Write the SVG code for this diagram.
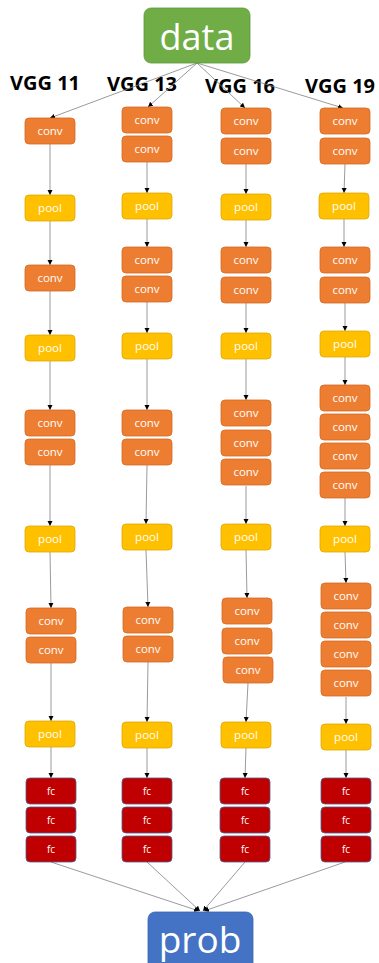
<svg xmlns="http://www.w3.org/2000/svg" width="379" height="963" viewBox="0 0 379 963">
<defs>
<marker id="ah" markerWidth="6" markerHeight="6" refX="5" refY="3" orient="auto" markerUnits="userSpaceOnUse">
<path d="M0,0.5 L5,3 L0,5.5 Z" fill="#000"/>
</marker>
<style>
.conv rect{fill:#ED7D31;stroke:#D46A25;stroke-width:0.8}
.pool rect{fill:#FFC000;stroke:#E0A800;stroke-width:0.8}
.fc rect{fill:#C00000;stroke:#4F5F8F;stroke-width:0.8}
.n text{fill:#fff;font-family:"Open Sans",sans-serif;font-size:11.5px;text-anchor:middle}
.fc text{font-size:10px}
.lbl{font-family:"Open Sans",sans-serif;font-weight:bold;font-size:20px;fill:#000}
.big text{fill:#fff;font-family:"Open Sans",sans-serif;text-anchor:middle}
#edges line{stroke:#808080;stroke-width:0.8;marker-end:url(#ah)}
</style>
</defs>
<rect width="379" height="963" fill="#fff"/>
<g id="labels">
<text class="lbl" x="10" y="90">VGG 11</text>
<text class="lbl" x="107" y="91">VGG 13</text>
<text class="lbl" x="205" y="93">VGG 16</text>
<text class="lbl" x="305" y="93">VGG 19</text>
</g>
<g id="edges">
<line x1="197" y1="63" x2="50" y2="118"/>
<line x1="197" y1="63" x2="148" y2="107"/>
<line x1="197" y1="63" x2="245" y2="108"/>
<line x1="197" y1="63" x2="343" y2="108"/>
<line x1="50" y1="144" x2="50" y2="195"/>
<line x1="50" y1="221" x2="50" y2="265"/>
<line x1="50" y1="291" x2="50" y2="335"/>
<line x1="50" y1="361" x2="50" y2="410"/>
<line x1="50" y1="465" x2="50" y2="526"/>
<line x1="50" y1="552" x2="51" y2="608"/>
<line x1="51" y1="663" x2="51" y2="721"/>
<line x1="51" y1="747" x2="51" y2="778"/>
<line x1="147" y1="162" x2="147" y2="193"/>
<line x1="147" y1="219" x2="147" y2="247"/>
<line x1="147" y1="302" x2="147" y2="333"/>
<line x1="147" y1="359" x2="147" y2="410"/>
<line x1="147" y1="465" x2="146" y2="524"/>
<line x1="146" y1="550" x2="148" y2="607"/>
<line x1="148" y1="662" x2="147" y2="722"/>
<line x1="147" y1="748" x2="147" y2="778"/>
<line x1="246" y1="164" x2="246" y2="194"/>
<line x1="246" y1="220" x2="246" y2="247"/>
<line x1="246" y1="303" x2="246" y2="333"/>
<line x1="246" y1="359" x2="246" y2="400"/>
<line x1="246" y1="486" x2="246" y2="524"/>
<line x1="246" y1="550" x2="247" y2="598"/>
<line x1="248" y1="683" x2="246" y2="722"/>
<line x1="246" y1="748" x2="245" y2="778"/>
<line x1="345" y1="164" x2="344" y2="193"/>
<line x1="344" y1="219" x2="344" y2="247"/>
<line x1="345" y1="303" x2="345" y2="331"/>
<line x1="345" y1="357" x2="345" y2="385"/>
<line x1="345" y1="498" x2="345" y2="526"/>
<line x1="345" y1="552" x2="346" y2="583"/>
<line x1="346" y1="697" x2="346" y2="724"/>
<line x1="346" y1="750" x2="346" y2="778"/>
<line x1="51" y1="862" x2="199" y2="911"/>
<line x1="147" y1="862" x2="200" y2="911"/>
<line x1="245" y1="862" x2="203" y2="911"/>
<line x1="345" y1="862" x2="204" y2="911"/>
</g>
<g id="data" class="big">
<rect x="144" y="8" width="106" height="55" rx="7" fill="#70AD47" stroke="#5E9A3A" stroke-width="0.8"/>
<text x="197" y="50" font-size="36">data</text>
</g>
<g id="prob" class="big">
<rect x="148" y="912" width="105" height="60" rx="7" fill="#4472C4" stroke="#3A64B0" stroke-width="0.8"/>
<text x="200" y="953" font-size="37">prob</text>
</g>
<g id="v11_conv1" class="n conv"><rect x="25" y="118" width="50" height="26" rx="4"/><text x="50" y="135">conv</text></g>
<g id="v11_pool1" class="n pool"><rect x="25" y="195" width="50" height="26" rx="4"/><text x="50" y="212">pool</text></g>
<g id="v11_conv2" class="n conv"><rect x="25" y="265" width="50" height="26" rx="4"/><text x="50" y="282">conv</text></g>
<g id="v11_pool2" class="n pool"><rect x="25" y="335" width="50" height="26" rx="4"/><text x="50" y="352">pool</text></g>
<g id="v11_conv3" class="n conv"><rect x="25" y="410" width="50" height="26" rx="4"/><text x="50" y="427">conv</text></g>
<g id="v11_conv4" class="n conv"><rect x="25" y="439" width="50" height="26" rx="4"/><text x="50" y="456">conv</text></g>
<g id="v11_pool3" class="n pool"><rect x="25" y="526" width="50" height="26" rx="4"/><text x="50" y="543">pool</text></g>
<g id="v11_conv5" class="n conv"><rect x="26" y="608" width="50" height="26" rx="4"/><text x="51" y="625">conv</text></g>
<g id="v11_conv6" class="n conv"><rect x="26" y="637" width="50" height="26" rx="4"/><text x="51" y="654">conv</text></g>
<g id="v11_pool4" class="n pool"><rect x="25" y="721" width="50" height="26" rx="4"/><text x="50" y="738">pool</text></g>
<g id="v11_fc1" class="n fc"><rect x="26" y="778" width="50" height="26" rx="4"/><text x="51" y="795">fc</text></g>
<g id="v11_fc2" class="n fc"><rect x="26" y="807" width="50" height="26" rx="4"/><text x="51" y="824">fc</text></g>
<g id="v11_fc3" class="n fc"><rect x="26" y="836" width="50" height="26" rx="4"/><text x="51" y="853">fc</text></g>
<g id="v13_conv1" class="n conv"><rect x="122" y="107" width="50" height="26" rx="4"/><text x="147" y="124">conv</text></g>
<g id="v13_conv2" class="n conv"><rect x="122" y="136" width="50" height="26" rx="4"/><text x="147" y="153">conv</text></g>
<g id="v13_pool1" class="n pool"><rect x="122" y="193" width="50" height="26" rx="4"/><text x="147" y="210">pool</text></g>
<g id="v13_conv3" class="n conv"><rect x="122" y="247" width="50" height="26" rx="4"/><text x="147" y="264">conv</text></g>
<g id="v13_conv4" class="n conv"><rect x="122" y="276" width="50" height="26" rx="4"/><text x="147" y="293">conv</text></g>
<g id="v13_pool2" class="n pool"><rect x="122" y="333" width="50" height="26" rx="4"/><text x="147" y="350">pool</text></g>
<g id="v13_conv5" class="n conv"><rect x="122" y="410" width="50" height="26" rx="4"/><text x="147" y="427">conv</text></g>
<g id="v13_conv6" class="n conv"><rect x="122" y="439" width="50" height="26" rx="4"/><text x="147" y="456">conv</text></g>
<g id="v13_pool3" class="n pool"><rect x="122" y="524" width="50" height="26" rx="4"/><text x="147" y="541">pool</text></g>
<g id="v13_conv7" class="n conv"><rect x="123" y="607" width="50" height="26" rx="4"/><text x="148" y="624">conv</text></g>
<g id="v13_conv8" class="n conv"><rect x="123" y="636" width="50" height="26" rx="4"/><text x="148" y="653">conv</text></g>
<g id="v13_pool4" class="n pool"><rect x="122" y="722" width="50" height="26" rx="4"/><text x="147" y="739">pool</text></g>
<g id="v13_fc1" class="n fc"><rect x="122" y="778" width="50" height="26" rx="4"/><text x="147" y="795">fc</text></g>
<g id="v13_fc2" class="n fc"><rect x="122" y="807" width="50" height="26" rx="4"/><text x="147" y="824">fc</text></g>
<g id="v13_fc3" class="n fc"><rect x="122" y="836" width="50" height="26" rx="4"/><text x="147" y="853">fc</text></g>
<g id="v16_conv1" class="n conv"><rect x="221" y="108" width="50" height="26" rx="4"/><text x="246" y="125">conv</text></g>
<g id="v16_conv2" class="n conv"><rect x="221" y="138" width="50" height="26" rx="4"/><text x="246" y="155">conv</text></g>
<g id="v16_pool1" class="n pool"><rect x="221" y="194" width="50" height="26" rx="4"/><text x="246" y="211">pool</text></g>
<g id="v16_conv3" class="n conv"><rect x="221" y="247" width="50" height="26" rx="4"/><text x="246" y="264">conv</text></g>
<g id="v16_conv4" class="n conv"><rect x="221" y="277" width="50" height="26" rx="4"/><text x="246" y="294">conv</text></g>
<g id="v16_pool2" class="n pool"><rect x="221" y="333" width="50" height="26" rx="4"/><text x="246" y="350">pool</text></g>
<g id="v16_conv5" class="n conv"><rect x="221" y="400" width="50" height="26" rx="4"/><text x="246" y="417">conv</text></g>
<g id="v16_conv6" class="n conv"><rect x="221" y="430" width="50" height="26" rx="4"/><text x="246" y="447">conv</text></g>
<g id="v16_conv7" class="n conv"><rect x="221" y="459" width="50" height="26" rx="4"/><text x="246" y="476">conv</text></g>
<g id="v16_pool3" class="n pool"><rect x="221" y="524" width="50" height="26" rx="4"/><text x="246" y="541">pool</text></g>
<g id="v16_conv8" class="n conv"><rect x="222" y="598" width="50" height="26" rx="4"/><text x="247" y="615">conv</text></g>
<g id="v16_conv9" class="n conv"><rect x="222" y="628" width="50" height="26" rx="4"/><text x="247" y="645">conv</text></g>
<g id="v16_conv10" class="n conv"><rect x="223" y="657" width="50" height="26" rx="4"/><text x="248" y="674">conv</text></g>
<g id="v16_pool4" class="n pool"><rect x="221" y="722" width="50" height="26" rx="4"/><text x="246" y="739">pool</text></g>
<g id="v16_fc1" class="n fc"><rect x="220" y="778" width="50" height="26" rx="4"/><text x="245" y="795">fc</text></g>
<g id="v16_fc2" class="n fc"><rect x="220" y="807" width="50" height="26" rx="4"/><text x="245" y="824">fc</text></g>
<g id="v16_fc3" class="n fc"><rect x="220" y="836" width="50" height="26" rx="4"/><text x="245" y="853">fc</text></g>
<g id="v19_conv1" class="n conv"><rect x="320" y="108" width="50" height="26" rx="4"/><text x="345" y="125">conv</text></g>
<g id="v19_conv2" class="n conv"><rect x="320" y="138" width="50" height="26" rx="4"/><text x="345" y="155">conv</text></g>
<g id="v19_pool1" class="n pool"><rect x="319" y="193" width="50" height="26" rx="4"/><text x="344" y="210">pool</text></g>
<g id="v19_conv3" class="n conv"><rect x="320" y="247" width="50" height="26" rx="4"/><text x="345" y="264">conv</text></g>
<g id="v19_conv4" class="n conv"><rect x="320" y="277" width="50" height="26" rx="4"/><text x="345" y="294">conv</text></g>
<g id="v19_pool2" class="n pool"><rect x="320" y="331" width="50" height="26" rx="4"/><text x="345" y="348">pool</text></g>
<g id="v19_conv5" class="n conv"><rect x="320" y="385" width="50" height="26" rx="4"/><text x="345" y="402">conv</text></g>
<g id="v19_conv6" class="n conv"><rect x="320" y="414" width="50" height="26" rx="4"/><text x="345" y="431">conv</text></g>
<g id="v19_conv7" class="n conv"><rect x="320" y="443" width="50" height="26" rx="4"/><text x="345" y="460">conv</text></g>
<g id="v19_conv8" class="n conv"><rect x="320" y="472" width="50" height="26" rx="4"/><text x="345" y="489">conv</text></g>
<g id="v19_pool3" class="n pool"><rect x="320" y="526" width="50" height="26" rx="4"/><text x="345" y="543">pool</text></g>
<g id="v19_conv9" class="n conv"><rect x="321" y="583" width="50" height="26" rx="4"/><text x="346" y="600">conv</text></g>
<g id="v19_conv10" class="n conv"><rect x="321" y="612" width="50" height="26" rx="4"/><text x="346" y="629">conv</text></g>
<g id="v19_conv11" class="n conv"><rect x="321" y="641" width="50" height="26" rx="4"/><text x="346" y="658">conv</text></g>
<g id="v19_conv12" class="n conv"><rect x="321" y="670" width="50" height="26" rx="4"/><text x="346" y="687">conv</text></g>
<g id="v19_pool4" class="n pool"><rect x="321" y="724" width="50" height="26" rx="4"/><text x="346" y="741">pool</text></g>
<g id="v19_fc1" class="n fc"><rect x="321" y="778" width="50" height="26" rx="4"/><text x="346" y="795">fc</text></g>
<g id="v19_fc2" class="n fc"><rect x="321" y="807" width="50" height="26" rx="4"/><text x="346" y="824">fc</text></g>
<g id="v19_fc3" class="n fc"><rect x="321" y="836" width="50" height="26" rx="4"/><text x="346" y="853">fc</text></g>
</svg>
